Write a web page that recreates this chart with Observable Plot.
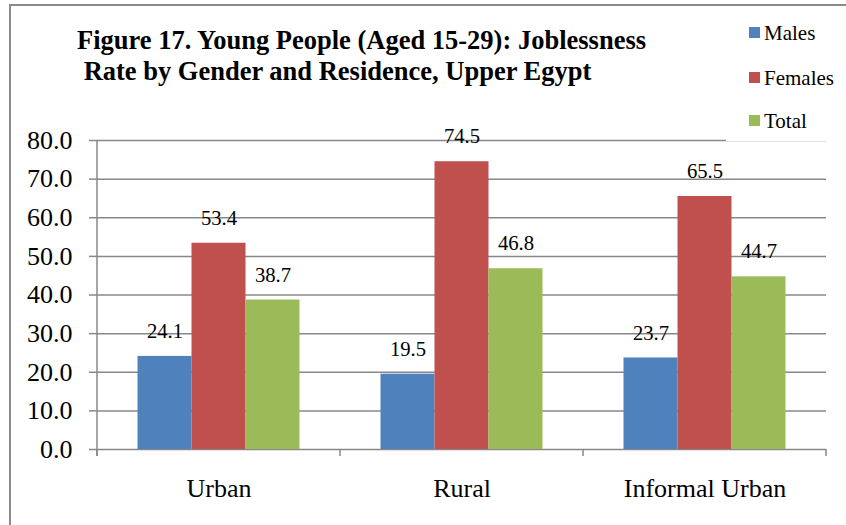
<!DOCTYPE html>
<html><head><meta charset="utf-8">
<script src="https://cdn.jsdelivr.net/npm/d3@7"></script>
<script src="https://cdn.jsdelivr.net/npm/@observablehq/plot@0.6"></script>
<style>
body{margin:0;background:#fff;}
#wrap{position:relative;width:846px;height:525px;overflow:hidden;font-family:"Liberation Serif","Times New Roman",serif;background:#fff;}
#chart{position:absolute;left:0;top:0;}
#border{position:absolute;left:9px;top:4px;width:900px;height:600px;border:2px solid #8a8a8a;box-sizing:border-box;pointer-events:none;}
#title{position:absolute;left:77px;top:24.6px;font-weight:bold;font-size:26.5px;line-height:31.5px;white-space:pre;color:#000;}
#legend{position:absolute;left:726px;top:8px;width:120px;height:133px;background:#fff;}
.item{position:absolute;left:23px;font-size:21px;line-height:24px;white-space:nowrap;color:#000;}
.sw{display:inline-block;width:11px;height:11px;margin-right:4px;vertical-align:2px;}
</style>
</head><body>
<div id="wrap">
  <div id="chart"></div>
  <div id="title">Figure 17. Young People (Aged 15-29): Joblessness
 Rate by Gender and Residence, Upper Egypt</div>
  <div id="legend"></div>
  <div id="border"></div>
</div>
<script>
const categories = ["Urban", "Rural", "Informal Urban"];
const series = ["Males", "Females", "Total"];
const males = [24.1, 19.5, 23.7];
const females = [53.4, 74.5, 65.5];
const total = [38.7, 46.8, 44.7];
const colors = ["#4F81BD", "#C0504D", "#9BBB59"];
const yTicks = [0, 10, 20, 30, 40, 50, 60, 70, 80];

const values = [males, females, total];
const data = categories.flatMap((c, i) => series.map((s, k) => ({category: c, series: s, value: values[k][i]})));

const W = 846, H = 525, mL = 97, mR = 20, mT = 140, mB = 76;
const band = (W - mL - mR) / categories.length;
const gap = band / 6;
const barW = band * 2 / 9;
const grid = "#888888";
const serif = "'Liberation Serif', 'Times New Roman', serif";

const marks = [
  Plot.ruleY(yTicks, {y: d => d, stroke: grid, strokeWidth: 1.5}),
];
series.forEach((s, k) => {
  const rows = data.filter(d => d.series === s);
  marks.push(Plot.barY(rows, {
    x: "category", y: "value", fill: colors[k],
    insetLeft: gap + k * barW, insetRight: band - gap - (k + 1) * barW
  }));
  marks.push(Plot.text(rows, {
    x: "category", y: "value", text: d => d.value.toFixed(1),
    dx: (k - 1) * barW, dy: -25, fontSize: 20.7, fontFamily: serif, fill: "#000"
  }));
});
marks.push(Plot.axisY(yTicks, {tickSize: 8, tickPadding: 17, tickFormat: d => d.toFixed(1), stroke: grid, strokeWidth: 1.5, fill: "#000", fontSize: 26, fontFamily: serif, label: null}));
marks.push(Plot.axisX({tickSize: 0, tickPadding: 29.5, fill: "#000", fontSize: 26, fontFamily: serif, label: null}));

const plot = Plot.plot({
  width: W, height: H,
  marginLeft: mL, marginRight: mR, marginTop: mT, marginBottom: mB,
  style: "font-family: " + serif + "; background: transparent; color: #000;",
  x: {domain: categories, padding: 0},
  y: {domain: [0, 80]},
  marks
});
document.getElementById("chart").appendChild(plot);

// axis line and category boundary ticks, positioned through Plot's scales
const xs = plot.scale("x"), ys = plot.scale("y");
const svg = d3.select(plot);
const y0 = ys.apply(0), yTop = ys.apply(80);
const bounds = categories.map(c => xs.apply(c)).concat([xs.apply(categories[categories.length - 1]) + xs.bandwidth]);
svg.append("line").attr("x1", bounds[0]).attr("x2", bounds[0]).attr("y1", yTop).attr("y2", y0 + 7)
  .attr("stroke", grid).attr("stroke-width", 1.5);
svg.selectAll("line.bt").data(bounds).join("line").attr("class", "bt")
  .attr("x1", d => d).attr("x2", d => d).attr("y1", y0).attr("y2", y0 + 7)
  .attr("stroke", grid).attr("stroke-width", 1.5);

// legend
const legend = document.getElementById("legend");
const legendTops = [21, 65.5, 109];
series.forEach((s, k) => {
  const it = document.createElement("div");
  it.className = "item";
  it.style.top = (legendTops[k] - 8) + "px";
  it.innerHTML = `<span class="sw" style="background:${colors[k]}"></span>${s}`;
  legend.appendChild(it);
});
</script>
</body></html>
